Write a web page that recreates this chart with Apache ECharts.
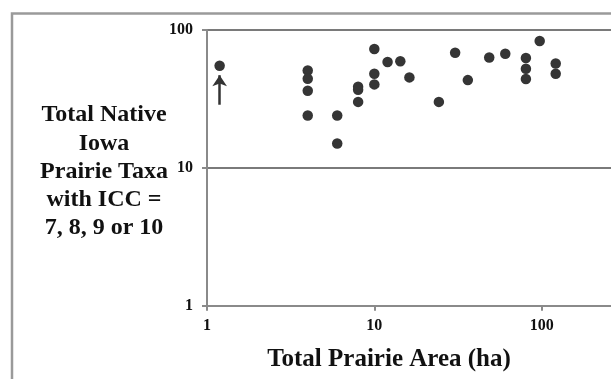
<!DOCTYPE html>
<html>
<head>
<meta charset="utf-8">
<script src="https://cdn.jsdelivr.net/npm/echarts@6/dist/echarts.min.js"></script>
<style>
html,body{margin:0;padding:0;background:#fff;}
#c{width:611px;height:379px;}
</style>
</head>
<body>
<div id="c"></div>
<script>
// Total prairie area (ha)
const areaHa = [1.19, 4, 4, 4, 4, 6, 6, 8, 8, 8, 10, 10, 10, 12, 14.3, 16.2, 24.3, 30.4, 36.2, 48.6, 60.6, 80.5, 80.5, 80.5, 97.3, 121.3, 121.3];
// Total native Iowa prairie taxa with ICC = 7..10
const taxaCount = [55, 50.9, 44.3, 36.3, 24, 24, 15, 38.7, 36.9, 30.1, 72.8, 48.2, 40.3, 58.6, 59.3, 45.3, 30.1, 68.4, 43.3, 63.2, 67.3, 62.6, 52.4, 44.1, 83.2, 57.2, 48.2];
// Annotation arrow below the first point (data coordinates)
const arrowFrom = [1.19, 28.7];
const arrowTo = [1.19, 47];
const xTickValues = [1, 10, 100];
const yTickValues = [1, 10, 100];
const xTitle = 'Total Prairie Area (ha)';
const yTitle = 'Total Native\nIowa\nPrairie Taxa\nwith ICC =\n7, 8, 9 or 10';

const points = areaHa.map((x, i) => [x, taxaCount[i]]);
const font = '"Liberation Serif", "Times New Roman", serif';
const axisColor = '#8a8a8a';

const chart = echarts.init(document.getElementById('c'), null, {renderer: 'canvas'});
chart.setOption({
  animation: false,
  backgroundColor: '#ffffff',
  grid: {left: 207, top: 30, right: 0, bottom: 73.3, containLabel: false},
  xAxis: {
    type: 'log', logBase: 10, min: 1, max: 259.6,
    axisLine: {show: true, lineStyle: {color: axisColor, width: 2}},
    axisTick: {show: true, length: 5, lineStyle: {color: axisColor, width: 2}},
    axisLabel: {
      margin: 12, color: '#111', fontFamily: font, fontWeight: 'bold', fontSize: 16,
      showMaxLabel: false,
      formatter: v => xTickValues.some(t => Math.abs(t - v) < 1e-6) ? String(v) : ''
    },
    splitLine: {show: false},
    minorTick: {show: false}
  },
  yAxis: {
    type: 'log', logBase: 10, min: 1, max: 100,
    axisLine: {show: true, lineStyle: {color: axisColor, width: 2}},
    axisTick: {show: true, length: 5, lineStyle: {color: axisColor, width: 2}},
    axisLabel: {
      margin: 14, color: '#111', fontFamily: font, fontWeight: 'bold', fontSize: 16,
      formatter: v => yTickValues.some(t => Math.abs(t - v) < 1e-6) ? String(v) : ''
    },
    splitLine: {show: true, lineStyle: {color: '#7a7a7a', width: 2}}
  },
  series: [{
    type: 'scatter',
    data: points,
    symbol: 'circle',
    symbolSize: 10.5,
    itemStyle: {color: '#353535', opacity: 1},
    markLine: {
      silent: true,
      symbol: ['none', 'arrow'],
      symbolSize: [11, 11],
      label: {show: false},
      lineStyle: {color: '#333', width: 2.5, type: 'solid', opacity: 1},
      data: [[{coord: arrowFrom}, {coord: arrowTo}]]
    }
  }],
  graphic: [
    {
      type: 'rect', z: 100,
      shape: {x: 12, y: 13.5, width: 700, height: 500},
      style: {fill: 'none', stroke: '#9a9a9a', lineWidth: 2.5}
    },
    {
      type: 'text', z: 100,
      style: {
        text: yTitle, x: 104, y: 171.6, align: 'center', verticalAlign: 'middle',
        font: 'bold 24px ' + font, fill: '#111', lineHeight: 28.3
      }
    },
    {
      type: 'text', z: 100,
      style: {
        text: xTitle, x: 389, y: 360, align: 'center', verticalAlign: 'middle',
        font: 'bold 25px ' + font, fill: '#111'
      }
    }
  ]
});
</script>
</body>
</html>
